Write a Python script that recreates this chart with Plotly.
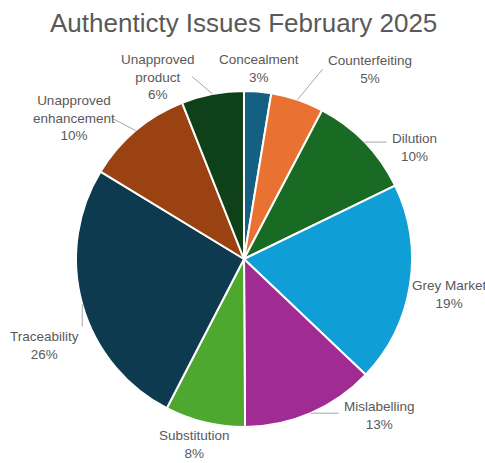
import math
import plotly.graph_objects as go

# ---------------- data ----------------
categories = ["Concealment", "Counterfeiting", "Dilution", "Grey Market", "Mislabelling",
              "Substitution", "Traceability", "Unapproved enhancement", "Unapproved product"]
values = [2.6, 5.1, 10.1, 19.3, 12.8, 7.7, 26.1, 10.3, 6.0]
label_lines = [["Concealment"], ["Counterfeiting"], ["Dilution"], ["Grey Market"], ["Mislabelling"],
               ["Substitution"], ["Traceability"], ["Unapproved", "enhancement"], ["Unapproved", "product"]]
title_text = "Authenticty Issues February 2025"

# ---------------- style / layout ----------------
colors = ["#156082", "#E97132", "#196B24", "#0F9ED5", "#A02B93",
          "#4EA72E", "#0E3A50", "#9A4212", "#0F4118"]
W, H = 485, 463
CX, CY, R = 244, 259, 168          # pie centre / radius in pixels
LABEL_R = 200
LABEL_NUDGE = [(-1, 9), (62, 0), (27, 28), (8, 5), (56, -27), (-3, -9), (-7, 33), (-41, 12), (-49, 14)]
FONT_PX = 13.5
CHAR_W = 6.3
LINE_H = 17.5
TEXT_COLOR = "#595959"
LEADER_COLOR = "#A6A6A6"


def px(x, y):
    return x / W, 1 - y / H


fig = go.Figure(go.Pie(
    labels=categories, values=values, sort=False, direction="clockwise", rotation=0,
    marker=dict(colors=colors, line=dict(color="white", width=2)),
    textinfo="none", hoverinfo="label+percent",
    domain=dict(x=[(CX - R) / W, (CX + R) / W], y=[(H - CY - R) / H, (H - CY + R) / H]),
))

total = sum(values)
annotations = []
shapes = []
cum = 0.0
for i, v in enumerate(values):
    mid = (cum + v / 2) / total * 2 * math.pi
    cum += v
    ux, uy = math.sin(mid), math.cos(mid)
    cx = CX + LABEL_R * ux + LABEL_NUDGE[i][0]
    cy = CY - LABEL_R * uy + LABEL_NUDGE[i][1]
    lines = label_lines[i] + [f"{round(v / total * 100)}%"]
    x0, y0 = px(cx, cy)
    annotations.append(dict(
        x=x0, y=y0, xref="paper", yref="paper", xanchor="center", yanchor="middle",
        text="<br>".join(lines), showarrow=False, align="center",
        font=dict(family="Liberation Sans, Arial", size=FONT_PX, color=TEXT_COLOR)))
    # leader line
    bw = max(len(s) for s in lines) * CHAR_W
    bh = len(lines) * LINE_H
    L, Rb, T, B = cx - bw / 2, cx + bw / 2, cy - bh / 2, cy + bh / 2
    ex, ey = CX + R * ux, CY - R * uy
    if ex < L - 3:
        tx, ty = L - 3, min(max(ey, T + 6), cy)
    elif ex > Rb + 3:
        tx, ty = Rb + 3, min(max(ey, T + 6), cy)
    else:
        tx = ex
        ty = T - 2 if ey < T else B + 2
    if math.hypot(tx - ex, ty - ey) > 15:
        a, b = px(ex, ey)
        c, d = px(tx, ty)
        shapes.append(dict(type="line", xref="paper", yref="paper", x0=a, y0=b, x1=c, y1=d,
                           line=dict(color=LEADER_COLOR, width=1)))

annotations.append(dict(
    x=243 / W, y=1 - 23 / H, xref="paper", yref="paper", xanchor="center", yanchor="middle",
    text=title_text, showarrow=False,
    font=dict(family="Liberation Sans, Arial", size=26, color=TEXT_COLOR)))

fig.update_layout(
    width=W, height=H, margin=dict(l=0, r=0, t=0, b=0),
    paper_bgcolor="white", plot_bgcolor="white", showlegend=False,
    annotations=annotations, shapes=shapes,
)
fig.write_html("out.html")
